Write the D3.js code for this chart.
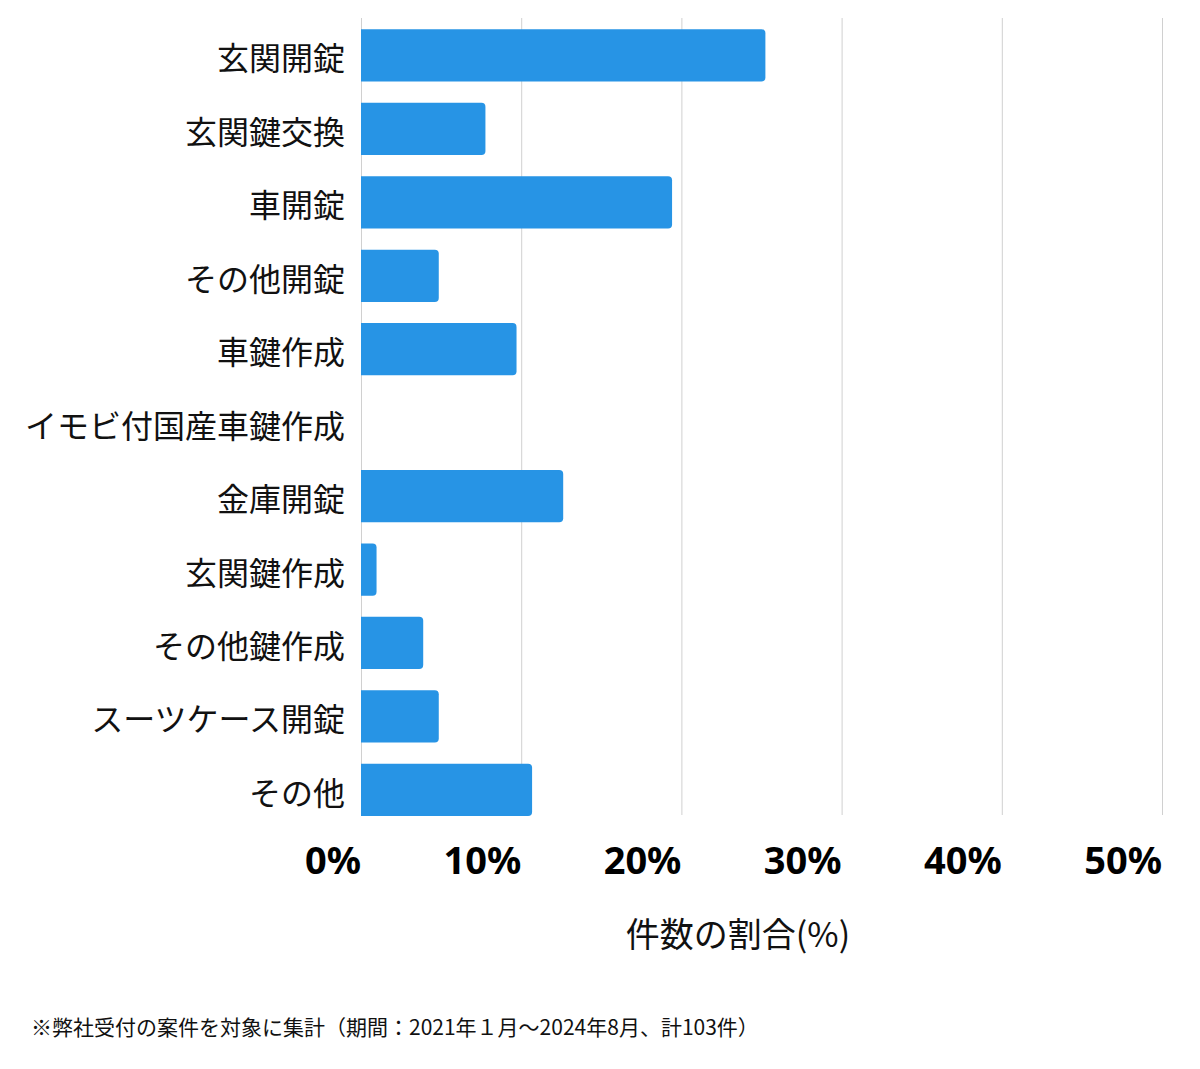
<!DOCTYPE html>
<html><head><meta charset="utf-8">
<script src="https://cdn.jsdelivr.net/npm/d3@7"></script>
<style>body{margin:0;background:#fff}</style>
</head><body>
<svg id="c" width="1200" height="1069"></svg>
<script>
const categories = ["玄関開錠","玄関鍵交換","車開錠","その他開錠","車鍵作成","イモビ付国産車鍵作成","金庫開錠","玄関鍵作成","その他鍵作成","スーツケース開錠","その他"];
const counts = [26,8,20,5,10,0,13,1,4,5,11];
const total = 103;
const values = counts.map(c => c / total * 100);
const tickValues = [0,10,20,30,40,50];
const tickLabels = ["0%","10%","20%","30%","40%","50%"];
const axisTitle = "件数の割合(%)";
const footnote = "※弊社受付の案件を対象に集計（期間：2021年１月～2024年8月、計103件）";

const svg = d3.select("#c");
const x = d3.scaleLinear().domain([0,50]).range([361,1162]);
const y = d3.scaleBand().domain(categories).range([29.3,816]).paddingInner(0.2886).paddingOuter(0);

const jp = "'Noto Sans CJK JP','Noto Sans',sans-serif";

// gridlines
svg.append("g").selectAll("line").data(tickValues).join("line")
  .attr("x1", d => x(d)+0.5).attr("x2", d => x(d)+0.5)
  .attr("y1", 18).attr("y2", 815)
  .attr("stroke", "#d0d0d0").attr("stroke-width", 1);

// bars with rounded right corners
const r = 4;
svg.append("g").selectAll("path").data(categories.map((c,i)=>({c, v: values[i]}))).join("path")
  .attr("fill", "#2794e5")
  .attr("d", d => {
    const x0 = x(0), x1 = x(d.v), y0 = y(d.c), h = y.bandwidth();
    if (x1 - x0 <= 0) return "";
    const rr = Math.min(r, (x1-x0)/2);
    return `M${x0},${y0}H${x1-rr}Q${x1},${y0} ${x1},${y0+rr}V${y0+h-rr}Q${x1},${y0+h} ${x1-rr},${y0+h}H${x0}Z`;
  });

// category labels
svg.append("g").selectAll("text").data(categories).join("text")
  .attr("x", 345).attr("y", d => y(d) + y.bandwidth()/2 + 15)
  .attr("text-anchor", "end")
  .attr("font-family", jp).attr("font-size", 32).attr("fill", "#111")
  .text(d => d);

// tick labels
svg.append("g").selectAll("text").data(tickValues).join("text")
  .attr("x", d => x(d)).attr("y", 874)
  .attr("text-anchor", "end")
  .attr("font-family", "'Noto Sans','Open Sans',sans-serif").attr("font-weight", 700)
  .attr("font-size", 38).attr("fill", "#000")
  .text((d,i) => tickLabels[i]);

// axis title
svg.append("text").attr("x", 738).attr("y", 947).attr("text-anchor", "middle")
  .attr("font-family", jp).attr("font-size", 34).attr("fill", "#111").text(axisTitle);

// footnote
svg.append("text").attr("x", 31).attr("y", 1035)
  .attr("font-family", jp).attr("font-size", 21).attr("fill", "#111").text(footnote);
</script>
</body></html>
